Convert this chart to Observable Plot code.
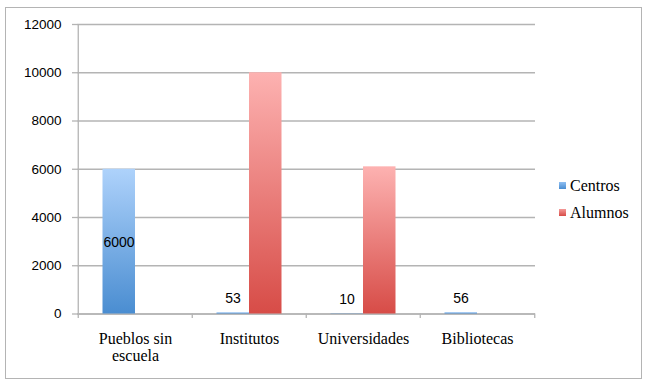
<!DOCTYPE html>
<html>
<head>
<meta charset="utf-8">
<script src="https://cdn.jsdelivr.net/npm/d3@7"></script>
<script src="https://cdn.jsdelivr.net/npm/@observablehq/plot@0.6"></script>
<style>
  html, body { margin: 0; padding: 0; background: #fff; }
  #wrap { position: relative; width: 653px; height: 385px; overflow: hidden; }
  #wrap svg { position: absolute; left: 0; top: 0; }
  #frame { position: absolute; left: 5px; top: 7px; width: 635px; height: 370px; border: 1.5px solid #b4b4b4; pointer-events: none; }
  #legend { position: absolute; left: 559px; top: 172px; font-family: "Liberation Serif", "DejaVu Serif", serif; font-size: 16px; color: #000; }
  #legend .item { display: flex; align-items: center; height: 27px; }
  #legend .sw { width: 7px; height: 7px; margin-right: 4px; }
</style>
</head>
<body>
<div id="wrap">
  <div id="frame"></div>
  <div id="legend"></div>
</div>
<script>
const categories = ["Pueblos sin escuela", "Institutos", "Universidades", "Bibliotecas"];
const tickLabels = ["Pueblos sin\nescuela", "Institutos", "Universidades", "Bibliotecas"];
const centros = [6000, 53, 10, 56];
const alumnos = [null, 10000, 6100, null];
const seriesNames = ["Centros", "Alumnos"];
const yTicks = [0, 2000, 4000, 6000, 8000, 10000, 12000];

const centrosData = categories.map((c, i) => ({cat: c, v: centros[i]}));
const alumnosData = categories.map((c, i) => ({cat: c, v: alumnos[i]})).filter(d => d.v != null);
const labelFmt = new Map(categories.map((c, i) => [c, tickLabels[i]]));
const bw = (653 - 77 - 118) / categories.length; // band width (styling only)
const grid = "#b4b4b4";
const sans = "'Liberation Sans', Arial, sans-serif";
const serif = "'Liberation Serif', 'Times New Roman', serif";

const chart = Plot.plot({
  width: 653,
  height: 385,
  marginLeft: 77,
  marginRight: 118,
  marginTop: 24,
  marginBottom: 71.5,
  style: {fontFamily: serif, fontSize: "16px", color: "#000", background: "transparent"},
  x: {type: "band", domain: categories, padding: 0},
  y: {domain: [0, 12000]},
  marks: [
    Plot.gridY(yTicks, {stroke: grid, strokeOpacity: 1, strokeWidth: 1.3}),
    Plot.axisY(yTicks, {tickSize: 5, tickPadding: 11, stroke: grid, strokeWidth: 1.3, tickFormat: d => String(d), fontFamily: sans, fontSize: 13.5, label: null}),
    Plot.axisX({tickSize: 0, tickPadding: 18, tickFormat: d => labelFmt.get(d), fontFamily: serif, fontSize: 16, lineHeight: 1.07, label: null}),
    Plot.ruleX([categories[0]], {dx: -bw / 2, y1: 0, y2: 12000, stroke: grid, strokeWidth: 1.3}),
    Plot.ruleY([0], {stroke: grid, strokeWidth: 1.3}),
    Plot.ruleX(categories, {dx: -bw / 2, y1: 0, y2: 0, insetBottom: -4.5, stroke: grid, strokeWidth: 1.3}),
    Plot.ruleX([categories[categories.length - 1]], {dx: bw / 2, y1: 0, y2: 0, insetBottom: -4.5, stroke: grid, strokeWidth: 1.3}),
    Plot.barY(centrosData, {x: "cat", y: "v", fill: "url(#gBlue)", insetLeft: 24.5, insetRight: bw - 24.5 - 33}),
    Plot.barY(alumnosData, {x: "cat", y: "v", fill: "url(#gRed)", insetLeft: bw - 24.5 - 33, insetRight: 24.5}),
    Plot.text(centrosData.filter(d => d.v >= 1000), {x: "cat", y: d => d.v / 2, text: d => String(d.v), dx: -16.5, dy: 1, fontFamily: sans, fontSize: 14, fill: "#000"}),
    Plot.text(centrosData.filter(d => d.v < 1000), {x: "cat", y: "v", text: d => String(d.v), dx: -16.5, dy: -14.5, fontFamily: sans, fontSize: 14, fill: "#000"})
  ]
});

const defs = d3.select(chart).insert("defs", ":first-child");
function grad(id, top, bottom) {
  const g = defs.append("linearGradient").attr("id", id).attr("x1", 0).attr("y1", 0).attr("x2", 0).attr("y2", 1);
  g.append("stop").attr("offset", "0%").attr("stop-color", top);
  g.append("stop").attr("offset", "100%").attr("stop-color", bottom);
}
grad("gBlue", "#aed2fb", "#4a8dd1");
grad("gRed", "#fdb2b1", "#d74c47");

document.getElementById("wrap").insertBefore(chart, document.getElementById("frame"));

const legend = document.getElementById("legend");
const legendColors = ["linear-gradient(#8fbff2, #4a8dd1)", "linear-gradient(#f49a98, #d74c47)"];
seriesNames.forEach((s, i) => {
  const item = document.createElement("div");
  item.className = "item";
  const sw = document.createElement("div");
  sw.className = "sw";
  sw.style.background = legendColors[i];
  const t = document.createElement("span");
  t.style.fontFamily = serif;
  t.textContent = s;
  item.appendChild(sw);
  item.appendChild(t);
  legend.appendChild(item);
});
</script>
</body>
</html>
